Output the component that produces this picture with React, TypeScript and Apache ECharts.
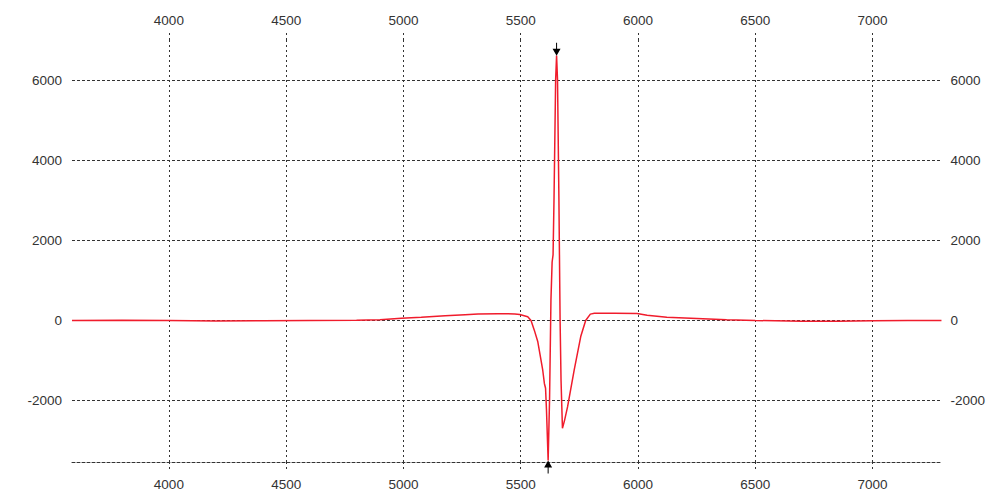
import React, { useEffect, useRef } from "react";
import * as echarts from "echarts";

// Wavelength / position values (x) and signal (y)
const xs = [3587, 3800, 4000, 4200, 4400, 4600, 4800, 4900, 4991, 5076, 5178, 5263, 5318, 5402, 5475, 5496, 5530, 5544, 5558, 5573, 5584, 5594, 5601, 5606, 5610, 5617, 5623, 5629, 5634, 5638, 5642, 5649, 5653, 5657, 5663, 5668, 5672, 5678, 5687, 5700, 5728, 5756, 5777, 5797, 5814, 5900, 5996, 6039, 6123, 6251, 6378, 6500, 6700, 6850, 7000, 7150, 7294];
const ys = [0, 5, 0, -10, -5, 0, 5, 20, 55, 80, 120, 145, 160, 170, 165, 150, 95, 0, -240, -530, -900, -1240, -1570, -1690, -2240, -3490, -1990, 510, 1460, 1640, 3010, 6010, 6610, 6010, 3010, 0, -1490, -2690, -2490, -2150, -1240, -400, 0, 160, 180, 180, 175, 130, 80, 50, 20, 0, -15, -20, -5, 0, 0];

const xTicks = [4000, 4500, 5000, 5500, 6000, 6500, 7000];
const yTicks = [-2000, 0, 2000, 4000, 6000];

const maxPoint = [5653, 6610];
const minPoint = [5617, -3490];

const X_MIN = 3587;
const X_MAX = 7294;
const Y_MIN = -3530;
const Y_MAX = 7000;

export default function App() {
  const ref = useRef<HTMLDivElement>(null);

  useEffect(() => {
    if (!ref.current) return;
    const chart = echarts.init(ref.current, null, { renderer: "svg" });
    const font = "'Liberation Sans', Arial, sans-serif";
    const labelColor = "#333";
    const gridColor = "#333";
    const fmt = (v: number) => String(v);

    const xBase = (pos: "top" | "bottom") => ({
      type: "value" as const,
      position: pos,
      min: X_MIN,
      max: X_MAX,
      minInterval: 500,
      maxInterval: 500,
      axisLine: {
        show: pos === "bottom",
        onZero: false,
        lineStyle: { color: gridColor, width: 1, type: [3, 2] },
      },
      axisTick: {
        show: true,
        inside: false,
        length: 7,
        customValues: xTicks,
        lineStyle: { color: gridColor, width: 1, type: [2, 3] },
      },
      axisLabel: {
        customValues: xTicks,
        formatter: fmt,
        color: labelColor,
        fontSize: 13.5,
        fontFamily: font,
        margin: pos === "bottom" ? 15 : 13,
      },
      splitLine: {
        show: pos === "bottom",
        lineStyle: { color: gridColor, width: 1, type: [2, 3] },
      },
    });

    const yBase = (pos: "left" | "right") => ({
      type: "value" as const,
      position: pos,
      min: Y_MIN,
      max: Y_MAX,
      minInterval: 2000,
      maxInterval: 2000,
      axisLine: { show: false, onZero: false },
      axisTick: { show: false, customValues: yTicks },
      axisLabel: {
        customValues: yTicks,
        formatter: fmt,
        color: labelColor,
        fontSize: 13.5,
        fontFamily: font,
        margin: pos === "left" ? 10 : 9,
      },
      splitLine: {
        show: pos === "left",
        lineStyle: { color: gridColor, width: 1, type: [3, 2] },
      },
    });

    chart.setOption({
      animation: false,
      backgroundColor: "#fff",
      grid: { left: 72, right: 42, top: 40, bottom: 33, containLabel: false },
      xAxis: [xBase("bottom"), xBase("top")],
      yAxis: [yBase("left"), yBase("right")],
      series: [
        {
          type: "line",
          xAxisIndex: 0,
          yAxisIndex: 0,
          data: xs.map((x, i) => [x, ys[i]]),
          showSymbol: false,
          symbol: "none",
          lineStyle: { color: "#f01c2c", width: 1.5 },
          markPoint: {
            label: { show: false },
            itemStyle: { color: "#000" },
            data: [
              {
                coord: maxPoint,
                symbol: "path://M3.5,0 L4.5,0 L4.5,6 L8,6 L4,13 L0,6 L3.5,6 Z",
                symbolSize: [8, 13],
                symbolOffset: [0, "-50%"],
              },
              {
                coord: minPoint,
                symbol: "path://M4,0 L8,7 L4.5,7 L4.5,13 L3.5,13 L3.5,7 L0,7 Z",
                symbolSize: [8, 13],
                symbolOffset: [0, "50%"],
              },
            ],
          },
        },
      ],
    });

    return () => chart.dispose();
  }, []);

  return <div ref={ref} style={{ width: 988, height: 495, position: "absolute", left: 0, top: 0 }} />;
}
